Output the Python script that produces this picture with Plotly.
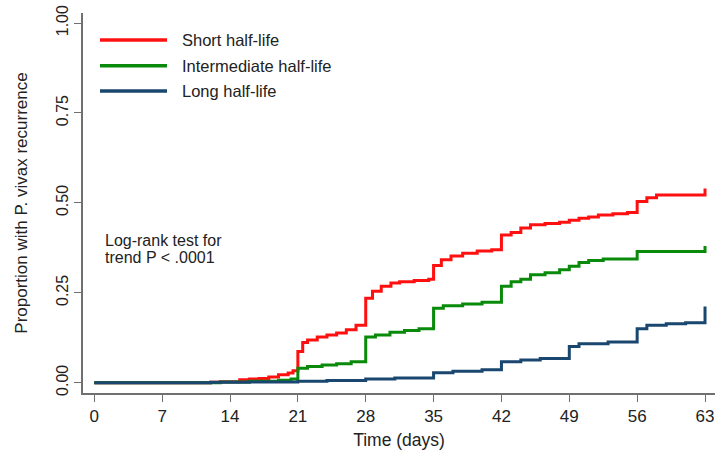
import plotly.graph_objects as go

# Kaplan-Meier style cumulative recurrence (step functions)
short_t = [0, 12, 13, 15, 16, 17, 18, 19, 20, 20.5, 21, 21.5, 22, 23, 24, 25, 26, 27,
           28, 28.7, 29.6, 30.6, 31.5, 33, 34.5, 35, 35.8, 36.8, 38, 39.5, 41, 42, 43,
           44, 45, 46.5, 48, 49, 50, 51, 52, 53.5, 55, 56, 57, 58, 63, 63]
short_v = [0, 0.001, 0.003, 0.008, 0.010, 0.012, 0.016, 0.022, 0.027, 0.033, 0.087, 0.112,
           0.119, 0.127, 0.133, 0.138, 0.147, 0.160, 0.235, 0.254, 0.268, 0.277, 0.281,
           0.284, 0.288, 0.326, 0.342, 0.352, 0.360, 0.366, 0.370, 0.411, 0.418, 0.430,
           0.439, 0.443, 0.446, 0.452, 0.457, 0.461, 0.466, 0.470, 0.473, 0.504, 0.514,
           0.522, 0.522, 0.540]

inter_t = [0, 13, 16, 19, 20.3, 21, 22, 23.5, 25, 26.5, 28, 29, 30.5, 32, 33.5, 35, 36,
           38, 40, 42, 43, 44, 45, 46.5, 48, 49, 50, 51, 52.5, 56, 63, 63]
inter_v = [0, 0.002, 0.004, 0.007, 0.010, 0.040, 0.045, 0.049, 0.053, 0.058, 0.127, 0.133,
           0.140, 0.145, 0.150, 0.207, 0.214, 0.219, 0.224, 0.268, 0.281, 0.288, 0.300,
           0.306, 0.314, 0.324, 0.334, 0.340, 0.344, 0.365, 0.365, 0.380]

long_t = [0, 12, 16, 21, 24, 28, 31, 35, 37, 40, 42, 44, 46, 49, 50, 53, 56, 57, 59,
          61, 63, 63]
long_v = [0, 0.001, 0.002, 0.004, 0.006, 0.010, 0.013, 0.028, 0.032, 0.036, 0.058, 0.063,
          0.067, 0.101, 0.108, 0.113, 0.150, 0.160, 0.164, 0.167, 0.168, 0.212]

series_names = ["Short half-life", "Intermediate half-life", "Long half-life"]
series_colors = ["#FF1010", "#0A8A0A", "#1A476F"]

x_ticks = [0, 7, 14, 21, 28, 35, 42, 49, 56, 63]
y_ticks = [0.0, 0.25, 0.5, 0.75, 1.0]
y_tick_labels = ["0.00", "0.25", "0.50", "0.75", "1.00"]

FONT = "Liberation Sans, Arial, sans-serif"
TXT = "#222222"

fig = go.Figure()
for t, v, name, col in zip([short_t, inter_t, long_t], [short_v, inter_v, long_v],
                           series_names, series_colors):
    fig.add_trace(go.Scatter(x=t, y=v, mode="lines", name=name,
                             line=dict(color=col, width=3, shape="hv"),
                             showlegend=False, hoverinfo="skip", cliponaxis=False))

# Manual legend (Stata style, long swatches)
leg_y = [0.9289, 0.8613, 0.7947]
for name, col, yy in zip(series_names, series_colors, leg_y):
    fig.add_shape(type="line", xref="paper", yref="paper", x0=0.0269, x1=0.1329,
                  y0=yy, y1=yy, line=dict(color=col, width=3.5))
    fig.add_annotation(xref="paper", yref="paper", x=0.1535, y=yy, text=name,
                       showarrow=False, xanchor="left", yanchor="middle",
                       font=dict(size=16.5, color=TXT, family=FONT))

fig.add_annotation(xref="paper", yref="paper", x=0.0316, y=0.4026,
                   text="Log-rank test for", showarrow=False, xanchor="left",
                   yanchor="middle", font=dict(size=16, color=TXT, family=FONT))
fig.add_annotation(xref="paper", yref="paper", x=0.0316, y=0.3553,
                   text="trend P &lt; .0001", showarrow=False, xanchor="left",
                   yanchor="middle", font=dict(size=16, color=TXT, family=FONT))

fig.update_layout(
    width=715, height=455,
    margin=dict(l=83, r=0, t=13, b=62),
    paper_bgcolor="white", plot_bgcolor="white",
    font=dict(family=FONT, size=16, color=TXT),
)
fig.update_xaxes(
    range=[-1.165, 64.03], tickvals=x_ticks, ticktext=[str(v) for v in x_ticks],
    automargin=False, ticklabeloverflow="allow",
    showgrid=False, zeroline=False, showline=True, linecolor="#707070", linewidth=1.5,
    ticks="outside", ticklen=7, tickcolor="#707070", tickwidth=1.2,
    tickfont=dict(size=17, color=TXT),
    title=dict(text="Time (days)", font=dict(size=17.5, color=TXT), standoff=9),
)
fig.update_yaxes(
    range=[-0.0286, 1.028], tickvals=y_ticks, ticktext=y_tick_labels, tickangle=-90,
    automargin=False, ticklabeloverflow="allow",
    showgrid=False, zeroline=False, showline=True, linecolor="#707070", linewidth=1.5,
    ticks="outside", ticklen=7, tickcolor="#707070", tickwidth=1.2,
    tickfont=dict(size=16, color=TXT),
    title=dict(text="Proportion with P. vivax recurrence",
               font=dict(size=17, color=TXT), standoff=22),
)

# remove the page's default body margin so the figure fills the window exactly
fig.write_html("out.html", config={"displayModeBar": False},
               post_script="document.body.style.margin='0px';")
